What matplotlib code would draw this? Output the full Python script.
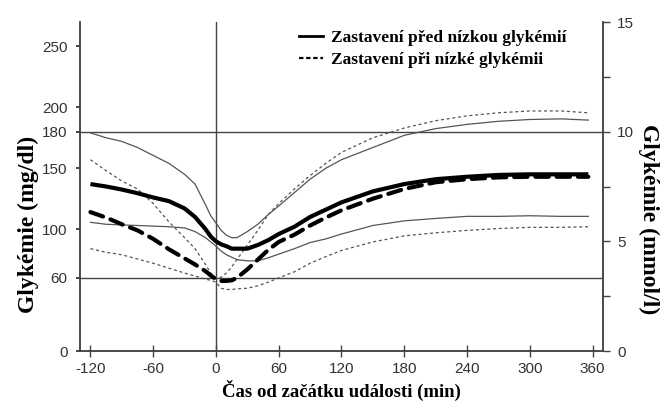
"""Glucose course around a low-glucose event: median and quartiles for two pump-stop modes."""

import matplotlib

matplotlib.use("Agg")
import matplotlib.pyplot as plt
from matplotlib.lines import Line2D
from matplotlib.ticker import FixedLocator

plt.rcParams["axes.unicode_minus"] = False

# minutes relative to the start of the event
TIME_MIN = [-120, -105, -90, -75, -60, -45, -30, -20, -10, -5, 0, 5, 10, 15, 20,
            30, 40, 50, 60, 75, 90, 105, 120, 150, 180, 210, 240, 270, 300, 330, 356]

# stop before low glucose (solid): median and quartiles, mg/dl
MED_BEFORE = [137, 135, 132.5, 129.5, 126, 123, 117, 110, 100, 94, 90, 87.5, 86, 84, 84,
              84, 87, 91, 96, 102, 110, 116, 122, 131, 137, 141, 143, 144.5, 145, 145, 145]
Q3_BEFORE = [179, 175, 172, 167, 160.5, 154, 145, 137, 120, 111, 105, 99, 95, 93, 93,
             98, 104, 112, 119, 130, 141, 150, 157, 167, 177, 182.5, 186, 188.5, 190, 190.5, 189.5]
Q1_BEFORE = [105.6, 104, 103.5, 103, 102.5, 102, 101, 98, 93, 89.5, 86, 82, 79, 77, 75,
             74, 74, 76.5, 79.5, 84, 89, 92, 96, 103, 106.8, 108.8, 110.5, 110.5, 111, 110.5, 110.5]

# stop at low glucose (dashed): median and quartiles, mg/dl
MED_AT = [114, 109.5, 104, 99, 92, 83.5, 76, 71, 65.5, 62, 59, 57.5, 57.5, 58, 60,
          67, 75, 83, 89.5, 95.5, 103, 109.5, 115.5, 125, 133, 138.5, 141, 142.5, 143, 143, 143]
Q3_AT = [157, 148, 139.5, 133, 121, 106, 93, 84, 71, 64, 60, 60.5, 64, 69, 75,
         87, 99, 112, 121, 133, 144, 154, 163, 175, 183, 189, 193, 195.5, 197, 197, 195.5]
Q1_AT = [84, 81, 79, 75.5, 72, 68, 64, 61.5, 59, 58, 56.5, 51.5, 50.5, 50.5, 51,
         51.5, 53.5, 56.5, 60, 65, 72, 77.5, 82.5, 89.5, 94.5, 97, 99, 100.5, 101.5, 101.5, 102]

X_TICKS = [-120, -60, 0, 60, 120, 180, 240, 300, 360]
MGDL_TICKS = [0, 60, 100, 150, 180, 200, 250]
MMOL_TICKS = [0, 5, 10, 15]
MMOL_MINOR = [2.5, 7.5, 12.5]
LIMITS_MGDL = [60, 180]
MGDL_PER_MMOL = 18.0

LEGEND_LABELS = ["Zastavení před nízkou glykémií", "Zastavení při nízké glykémii"]
X_LABEL = "Čas od začátku události (min)"
Y_LABEL_LEFT = "Glykémie (mg/dl)"
Y_LABEL_RIGHT = "Glykémie (mmol/l)"

SANS = ["Liberation Sans", "DejaVu Sans"]
SERIF = ["Liberation Serif", "DejaVu Serif"]
AXIS_GREY = "#444444"
THIN_GREY = "#555555"
TICK_TEXT = "#333333"

fig = plt.figure(figsize=(6.66, 4.03), dpi=100)
ax = fig.add_axes([0.1201, 0.129, 0.7853, 0.8164])

ax.set_xlim(-130, 370)
ax.set_ylim(0, 270)

# reference limits and event start
for level in LIMITS_MGDL:
    ax.axhline(level, color=AXIS_GREY, lw=1.0, zorder=1)
ax.axvline(0, color=AXIS_GREY, lw=1.0, zorder=1)

# quartile bands as thin lines
ax.plot(TIME_MIN, Q3_BEFORE, color=THIN_GREY, lw=0.9, zorder=2)
ax.plot(TIME_MIN, Q1_BEFORE, color=THIN_GREY, lw=0.9, zorder=2)
ax.plot(TIME_MIN, Q3_AT, color=THIN_GREY, lw=0.9, dashes=(2.4, 2.2), zorder=2)
ax.plot(TIME_MIN, Q1_AT, color=THIN_GREY, lw=0.9, dashes=(2.4, 2.2), zorder=2)

# medians
ax.plot(TIME_MIN, MED_BEFORE, color="black", lw=3.0, solid_capstyle="butt", zorder=3)
ax.plot(TIME_MIN, MED_AT, color="black", lw=3.0, dashes=(3.2, 1.9),
        dash_capstyle="round", zorder=3)

for side in ["left", "bottom", "right"]:
    ax.spines[side].set_color(AXIS_GREY)
    ax.spines[side].set_linewidth(1.1)
ax.spines["top"].set_visible(False)

ax.set_xticks(X_TICKS)
ax.set_yticks(MGDL_TICKS)
ax.tick_params(axis="x", direction="inout", length=8, width=1.0, color=AXIS_GREY,
               pad=4, labelsize=11, labelcolor=TICK_TEXT)
ax.tick_params(axis="y", direction="out", length=3, width=1.4, color=AXIS_GREY,
               pad=6, labelsize=11, labelcolor=TICK_TEXT)
for lab in ax.get_xticklabels() + ax.get_yticklabels():
    lab.set_fontfamily(SANS)

# mmol/l scale on the right
ax2 = ax.twinx()
ax2.set_ylim(0, 270 / MGDL_PER_MMOL)
ax2.yaxis.set_major_locator(FixedLocator(MMOL_TICKS))
ax2.yaxis.set_minor_locator(FixedLocator(MMOL_MINOR))
ax2.tick_params(axis="y", which="both", direction="out", length=5, width=1.0,
                color=AXIS_GREY, pad=5, labelsize=11, labelcolor=TICK_TEXT)
for lab in ax2.get_yticklabels():
    lab.set_fontfamily(SANS)
for side in ["left", "bottom", "right"]:
    ax2.spines[side].set_color(AXIS_GREY)
    ax2.spines[side].set_linewidth(1.1)
ax2.spines["top"].set_visible(False)

ax.set_xlabel(X_LABEL, family=SERIF, fontweight="bold", fontsize=13.5, labelpad=3)
ax.set_ylabel(Y_LABEL_LEFT, family=SERIF, fontweight="bold", fontsize=17, va="center")
ax.yaxis.set_label_coords(-0.099, 0.385)
ax2.set_ylabel(Y_LABEL_RIGHT, family=SERIF, fontweight="bold", fontsize=17,
               rotation=270, va="center")
ax2.yaxis.set_label_coords(1.088, 0.40)

handles = [
    Line2D([0], [0], color="black", lw=2.0),
    Line2D([0], [0], color="black", lw=1.6, dashes=(2.0, 1.2)),
]
fig.legend(
    handles,
    LEGEND_LABELS,
    loc="upper left",
    bbox_to_anchor=(0.449, 0.925),
    frameon=False,
    prop={"family": SERIF, "weight": "bold", "size": 12.5},
    handlelength=1.4,
    handletextpad=0.45,
    labelspacing=0.3,
    borderpad=0,
    borderaxespad=0,
)

fig.savefig("out.png", dpi=100)
